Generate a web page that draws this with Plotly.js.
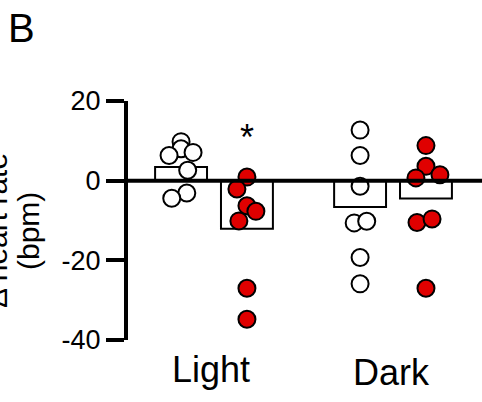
<!DOCTYPE html>
<html>
<head>
<meta charset="utf-8">
<script src="https://cdn.plot.ly/plotly-3.0.1.min.js"></script>
<style>html,body{margin:0;padding:0;background:#fff;}#chart{width:482px;height:402px;}</style>
</head>
<body>
<div id="chart"></div>
<script>
// ---- data ----
const groups = ['Light', 'Dark'];
const controlMean = [3.4, -6.6];
const treatMean = [-12.1, -4.5];

const controlLight = [9.8, 8.0, 7.1, 6.3, 2.6, -3.1, -4.4];
const controlLightJitter = [0, 0, 0.067, -0.067, 0.037, 0.032, -0.052];
const treatLight = [0.9, -2.1, -6.3, -7.7, -10.1, -27.0, -34.8];
const treatLightJitter = [0, -0.056, 0, 0.05, -0.045, 0, 0];
const controlDark = [12.7, 6.3, -1.4, -10.6, -10.2, -19.3, -25.9];
const controlDarkJitter = [0, 0, 0, -0.033, 0.037, 0, 0];
const treatDark = [8.8, 3.6, 0.7, 1.5, -10.5, -9.6, -27.0];
const treatDarkJitter = [0, 0, -0.056, 0.078, -0.05, 0.034, 0];

const yTicks = [20, 0, -20, -40];
const sigMark = '*';

// ---- layout constants ----
const OFF = 0.184;
const FONT = 'Liberation Sans, Arial, Helvetica, sans-serif';
const RED = '#e00000';
const L = 128, T = 101, W = 482, H = 402, B = 62, R = 0;
const pw = W - L - R, ph = H - T - B;
const px2x = p => (p - L) / pw;
const py2y = p => (H - B - p) / ph;

function pts(vals, jit, gi, side, fill) {
  return {
    type: 'scatter', mode: 'markers',
    x: vals.map((v, i) => gi + side * OFF + jit[i]),
    y: vals,
    marker: {size: 17, color: fill, line: {color: '#000', width: 2}},
    cliponaxis: false, hoverinfo: 'skip', showlegend: false
  };
}

const data = [
  {type: 'bar', x: groups.map((g, i) => i - OFF), y: controlMean, width: 0.29,
   marker: {color: '#fff', line: {color: '#000', width: 2}}, showlegend: false},
  {type: 'bar', x: groups.map((g, i) => i + OFF), y: treatMean, width: 0.29,
   marker: {color: '#fff', line: {color: '#000', width: 2}}, showlegend: false},
  pts(controlLight, controlLightJitter, 0, -1, '#fff'),
  pts(treatLight, treatLightJitter, 0, 1, RED),
  pts(controlDark, controlDarkJitter, 1, -1, '#fff'),
  pts(treatDark, treatDarkJitter, 1, 1, RED)
];

const annotations = [
  {text: groups[0], xref: 'x', yref: 'paper', x: 0 - 0.015, y: py2y(383), yanchor: 'bottom', xanchor: 'center',
   showarrow: false, font: {family: FONT, size: 36, color: '#000'}, yshift: -9},
  {text: groups[1], xref: 'x', yref: 'paper', x: 1 - 0.01, y: py2y(386), yanchor: 'bottom', xanchor: 'center',
   showarrow: false, font: {family: FONT, size: 36, color: '#000'}, yshift: -9},
  {text: sigMark, xref: 'x', yref: 'y', x: OFF, y: 12.8, showarrow: false,
   font: {family: FONT, size: 36, color: '#000'}, yshift: -8},
  {text: 'B', xref: 'paper', yref: 'paper', x: px2x(6), y: py2y(4), xanchor: 'left', yanchor: 'top',
   showarrow: false, font: {family: FONT, size: 40, color: '#000'}},
  {text: 'Δ heart rate', xref: 'paper', yref: 'paper', x: px2x(-4), y: py2y(231), xanchor: 'center', yanchor: 'middle',
   textangle: -90, showarrow: false, font: {family: FONT, size: 30, color: '#000'}},
  {text: '(bpm)', xref: 'paper', yref: 'paper', x: px2x(28), y: py2y(231), xanchor: 'center', yanchor: 'middle',
   textangle: -90, showarrow: false, font: {family: FONT, size: 30, color: '#000'}}
];

const layout = {
  width: W, height: H,
  margin: {l: L, r: R, t: T, b: B, pad: 0},
  paper_bgcolor: '#fff', plot_bgcolor: '#fff',
  showlegend: false,
  barmode: 'overlay',
  xaxis: {range: [-0.4804, 1.497], showgrid: false, zeroline: false, showline: false,
          showticklabels: false, ticks: '', fixedrange: true},
  yaxis: {range: [-40, 20], tickvals: yTicks, ticktext: yTicks.map(String),
          showgrid: false, zeroline: false, showline: true, linecolor: '#000', linewidth: 4,
          ticks: 'outside', ticklen: 18, tickwidth: 4, tickcolor: '#000',
          tickfont: {family: FONT, size: 27, color: '#000'}, fixedrange: true},
  shapes: [{type: 'line', xref: 'paper', yref: 'y', x0: 0, x1: 1, y0: 0, y1: 0,
            line: {color: '#000', width: 4}, layer: 'above'}],
  annotations: annotations
};

Plotly.newPlot('chart', data, layout, {displayModeBar: false, staticPlot: true});
</script>
</body>
</html>
